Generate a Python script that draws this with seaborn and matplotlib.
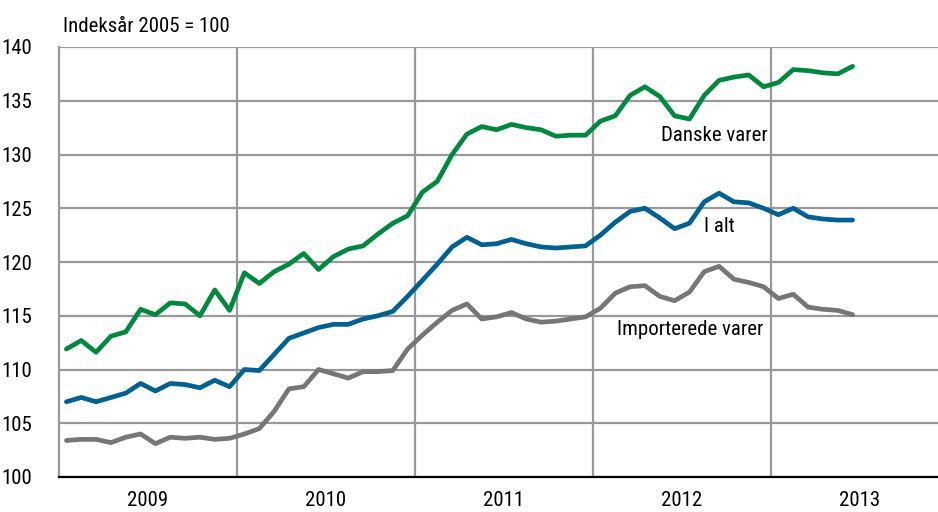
import numpy as np
import pandas as pd
import matplotlib
matplotlib.use("Agg")
import matplotlib.pyplot as plt
import seaborn as sns
from matplotlib.ticker import FixedLocator, NullFormatter, FixedFormatter

# Monthly index values, Jan 2009 - Jun 2013
danske = [111.9, 112.7, 111.6, 113.1, 113.5, 115.6, 115.1, 116.2, 116.1, 115.0, 117.4, 115.5,
          119.0, 118.0, 119.1, 119.8, 120.8, 119.3, 120.5, 121.2, 121.5, 122.6, 123.6, 124.3,
          126.5, 127.5, 130.0, 131.9, 132.6, 132.3, 132.8, 132.5, 132.3, 131.7, 131.8, 131.8,
          133.1, 133.6, 135.5, 136.3, 135.4, 133.6, 133.3, 135.5, 136.9, 137.2, 137.4, 136.3,
          136.7, 137.9, 137.8, 137.6, 137.5, 138.2]
i_alt = [107.0, 107.4, 107.0, 107.4, 107.8, 108.7, 108.0, 108.7, 108.6, 108.3, 109.0, 108.4,
         110.0, 109.9, 111.4, 112.9, 113.4, 113.9, 114.2, 114.2, 114.7, 115.0, 115.4, 116.8,
         118.3, 119.8, 121.4, 122.3, 121.6, 121.7, 122.1, 121.7, 121.4, 121.3, 121.4, 121.5,
         122.5, 123.7, 124.7, 125.0, 124.1, 123.1, 123.6, 125.6, 126.4, 125.6, 125.5, 125.0,
         124.4, 125.0, 124.2, 124.0, 123.9, 123.9]
import_v = [103.4, 103.5, 103.5, 103.2, 103.7, 104.0, 103.1, 103.7, 103.6, 103.7, 103.5, 103.6,
            104.0, 104.5, 106.1, 108.2, 108.4, 110.0, 109.6, 109.2, 109.8, 109.8, 109.9, 111.9,
            113.2, 114.4, 115.5, 116.1, 114.7, 114.9, 115.3, 114.7, 114.4, 114.5, 114.7, 114.9,
            115.7, 117.1, 117.7, 117.8, 116.8, 116.4, 117.2, 119.1, 119.6, 118.4, 118.1, 117.7,
            116.6, 117.0, 115.8, 115.6, 115.5, 115.1]
years = [2009, 2010, 2011, 2012, 2013]
series_names = ["Danske varer", "I alt", "Importerede varer"]
y_ticks = [100, 105, 110, 115, 120, 125, 130, 135, 140]

n = len(danske)
t = np.array([2009 + (k + 0.5) / 12 for k in range(n)])
df = pd.DataFrame({
    "t": np.concatenate([t, t, t]),
    "v": danske + i_alt + import_v,
    "serie": np.repeat(series_names, n),
})

sns.set_theme(style="white")
plt.rcParams["font.family"] = ["Roboto Condensed", "DejaVu Sans"]
plt.rcParams["text.color"] = "black"

FS = 15

fig = plt.figure(figsize=(9.38, 5.12), dpi=100)
ax = fig.add_axes([59 / 938, 1 - 477 / 512, 1 - 59 / 938, (477 - 47) / 512])

palette = {"Danske varer": "#00873f", "I alt": "#00608f", "Importerede varer": "#767676"}
sns.lineplot(data=df, x="t", y="v", hue="serie", palette=palette, linewidth=3.4,
             legend=False, ax=ax, zorder=3)

ax.set_xlim(2009, 2009 + (938 - 59) / 178)
ax.set_ylim(100, 140)
ax.set_xlabel("")
ax.set_ylabel("")

ax.xaxis.set_major_locator(FixedLocator([2010, 2011, 2012, 2013]))
ax.xaxis.set_major_formatter(NullFormatter())
ax.xaxis.set_minor_locator(FixedLocator([y + 0.5 for y in years]))
ax.xaxis.set_minor_formatter(FixedFormatter([str(y) for y in years]))
ax.set_yticks(y_ticks)
ax.set_yticklabels([str(v) for v in y_ticks])

ax.tick_params(axis="x", which="both", length=0, labelsize=FS, pad=10, colors="black")
ax.tick_params(axis="y", length=0, labelsize=FS, pad=19, colors="black")
ax.grid(True, axis="both", which="major", color="#999999", linewidth=1.6)

for s in ["top", "right"]:
    ax.spines[s].set_visible(False)
ax.spines["left"].set_color("#999999")
ax.spines["left"].set_linewidth(1.6)
ax.spines["bottom"].set_color("black")
ax.spines["bottom"].set_linewidth(1.6)
ax.spines["bottom"].set_zorder(4)

fig.text(63 / 938, 1 - 26 / 512, "Indeksår 2005 = 100", fontsize=FS, ha="left", va="center")

ax.text(2012.68, 131.3, "Danske varer", fontsize=FS, ha="center", va="baseline", zorder=5)
ax.text(2012.71, 122.8, "I alt", fontsize=FS, ha="center", va="baseline", zorder=5)
ax.text(2012.545, 113.2, "Importerede varer", fontsize=FS, ha="center", va="baseline", zorder=5)

fig.savefig("out.png", dpi=100)
